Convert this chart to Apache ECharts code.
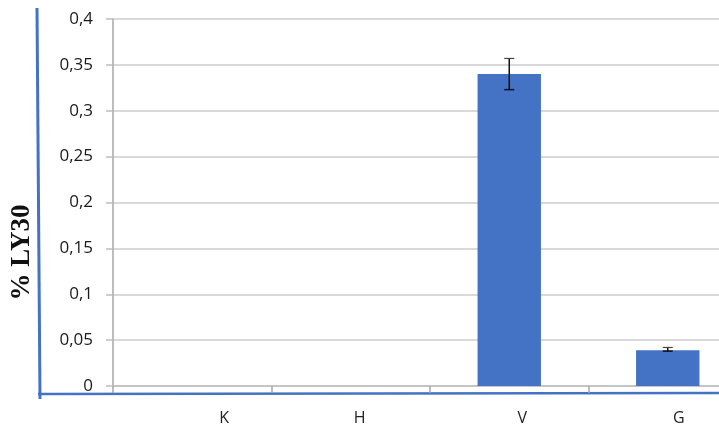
<!DOCTYPE html>
<html>
<head>
<meta charset="utf-8">
<script src="https://cdn.jsdelivr.net/npm/echarts@6/dist/echarts.min.js"></script>
<style>html,body{margin:0;padding:0;background:#fff}#c{width:719px;height:432px}</style>
</head>
<body>
<div id="c"></div>
<script>
var categories = ['K', 'H', 'V', 'G'];
var values = [0, 0, 0.34, 0.039];
var errLow = [null, null, 0.323, 0.038];
var errHigh = [null, null, 0.357, 0.042];
var yTicks = { min: 0, max: 0.4, interval: 0.05 };
var yTitle = '% LY30';

var labelShift = { K: 64, H: 18, V: 26, G: 22 };
var rich = {};
categories.forEach(function (c) {
  rich['c' + c] = { padding: [0, 0, 0, labelShift[c]], fontSize: 16, color: '#222', fontFamily: 'Open Sans' };
});

var errData = [];
for (var i = 0; i < categories.length; i++) {
  if (errLow[i] != null) errData.push([i, errLow[i], errHigh[i]]);
}

var chart = echarts.init(document.getElementById('c'), null, { renderer: 'canvas' });
chart.setOption({
  animation: false,
  grid: { left: 113, right: -28, top: 19, bottom: 46, containLabel: false, outerBoundsMode: 'none' },
  xAxis: {
    type: 'category',
    data: categories,
    axisLine: { show: true, lineStyle: { color: '#bfbfbf', width: 1.5 } },
    axisTick: { show: true, length: 7, lineStyle: { color: '#a6a6a6', width: 1.5 } },
    axisLabel: {
      margin: 24,
      formatter: function (v) { return '{c' + v + '|' + v + '}'; },
      rich: rich
    },
    splitLine: { show: false }
  },
  yAxis: {
    type: 'value',
    min: yTicks.min, max: yTicks.max, interval: yTicks.interval,
    name: yTitle,
    nameLocation: 'middle',
    nameGap: 77,
    nameRotate: 90,
    nameTextStyle: { fontFamily: 'Liberation Serif', fontWeight: 'bold', fontSize: 27, color: '#111', padding: [0, 100, 0, 0] },
    axisLine: { show: true, lineStyle: { color: '#a6a6a6', width: 1.5 } },
    axisTick: { show: true, length: 7, lineStyle: { color: '#bfbfbf', width: 1.5 } },
    axisLabel: {
      margin: 20,
      fontSize: 17,
      color: '#1a1a1a',
      fontFamily: 'Open Sans',
      formatter: function (v) { return String(+v.toFixed(2)).replace('.', ','); }
    },
    splitLine: { show: true, lineStyle: { color: '#d9d9d9', width: 2 } }
  },
  series: [
    {
      type: 'bar',
      data: values,
      barWidth: '40%',
      itemStyle: { color: '#4472C4' }
    },
    {
      type: 'custom',
      data: errData,
      z: 10,
      renderItem: function (params, api) {
        var x = api.value(0);
        var lo = api.coord([x, api.value(1)]);
        var hi = api.coord([x, api.value(2)]);
        var w = 5;
        var style = { stroke: '#111', lineWidth: 1.5 };
        return {
          type: 'group',
          children: [
            { type: 'line', shape: { x1: lo[0], y1: lo[1], x2: hi[0], y2: hi[1] }, style: style },
            { type: 'line', shape: { x1: lo[0] - w, y1: lo[1], x2: lo[0] + w, y2: lo[1] }, style: style },
            { type: 'line', shape: { x1: hi[0] - w, y1: hi[1], x2: hi[0] + w, y2: hi[1] }, style: { stroke: '#444', lineWidth: 1.2 } }
          ]
        };
      }
    }
  ],
  graphic: [
    { type: 'line', shape: { x1: 37, y1: 8, x2: 40, y2: 399 }, style: { stroke: '#4472C4', lineWidth: 3 } },
    { type: 'line', shape: { x1: 38, y1: 394, x2: 719, y2: 393 }, style: { stroke: '#4472C4', lineWidth: 2.5 } }
  ]
});
</script>
</body>
</html>
